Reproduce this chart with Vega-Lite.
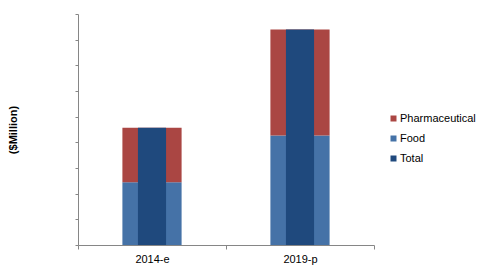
{
  "$schema": "https://vega.github.io/schema/vega-lite/v6.json",
  "width": 296,
  "height": 231,
  "autosize": "none",
  "padding": {"left": 78, "top": 14, "right": 126, "bottom": 28},
  "background": "white",
  "config": {
    "view": {"stroke": null},
    "font": "Liberation Sans",
    "axis": {"domainColor": "#868686", "tickColor": "#868686", "grid": false}
  },
  "data": {
    "values": [
      {"year": "2014-e", "series": "Food", "value": 2.44},
      {"year": "2014-e", "series": "Pharmaceutical", "value": 2.13},
      {"year": "2014-e", "series": "Total", "value": 4.57},
      {"year": "2019-p", "series": "Food", "value": 4.27},
      {"year": "2019-p", "series": "Pharmaceutical", "value": 4.13},
      {"year": "2019-p", "series": "Total", "value": 8.40}
    ]
  },
  "encoding": {
    "x": {
      "field": "year",
      "type": "nominal",
      "scale": {"paddingInner": 0, "paddingOuter": 0},
      "axis": {
        "title": null,
        "labelAngle": 0,
        "labelFontSize": 11,
        "labelColor": "#000000",
        "tickBand": "extent",
        "tickSize": 4,
        "labelPadding": 4
      }
    },
    "color": {
      "field": "series",
      "type": "nominal",
      "scale": {
        "domain": ["Pharmaceutical", "Food", "Total"],
        "range": ["#AA4643", "#4572A7", "#1F497D"]
      },
      "legend": {
        "title": null,
        "orient": "none",
        "legendX": 310,
        "legendY": 99,
        "padding": 0,
        "symbolType": "square",
        "symbolSize": 36,
        "symbolStrokeWidth": 0,
        "labelFontSize": 11,
        "labelColor": "#000000",
        "labelOffset": 1,
        "rowPadding": 8
      }
    }
  },
  "layer": [
    {
      "transform": [{"filter": "datum.series !== 'Total'"}],
      "mark": {"type": "bar", "width": {"band": 0.4}},
      "encoding": {
        "y": {
          "field": "value",
          "type": "quantitative",
          "stack": "zero",
          "scale": {"domain": [0, 9], "nice": false},
          "axis": {
            "title": "($Million)",
            "titleFontSize": 11,
            "titleFontWeight": "bold",
            "titleColor": "#000000",
            "titlePadding": 56,
            "labels": false,
            "values": [0, 1, 2, 3, 4, 5, 6, 7, 8, 9],
            "tickSize": 3
          }
        },
        "order": {"field": "series", "sort": "ascending"}
      }
    },
    {
      "transform": [{"filter": "datum.series === 'Total'"}],
      "mark": {"type": "bar", "width": {"band": 0.19}},
      "encoding": {
        "y": {
          "field": "value",
          "type": "quantitative",
          "stack": null,
          "axis": {
            "title": "($Million)",
            "titleFontSize": 11,
            "titleFontWeight": "bold",
            "titleColor": "#000000",
            "titlePadding": 56,
            "labels": false,
            "values": [0, 1, 2, 3, 4, 5, 6, 7, 8, 9],
            "tickSize": 3
          }
        }
      }
    }
  ]
}
